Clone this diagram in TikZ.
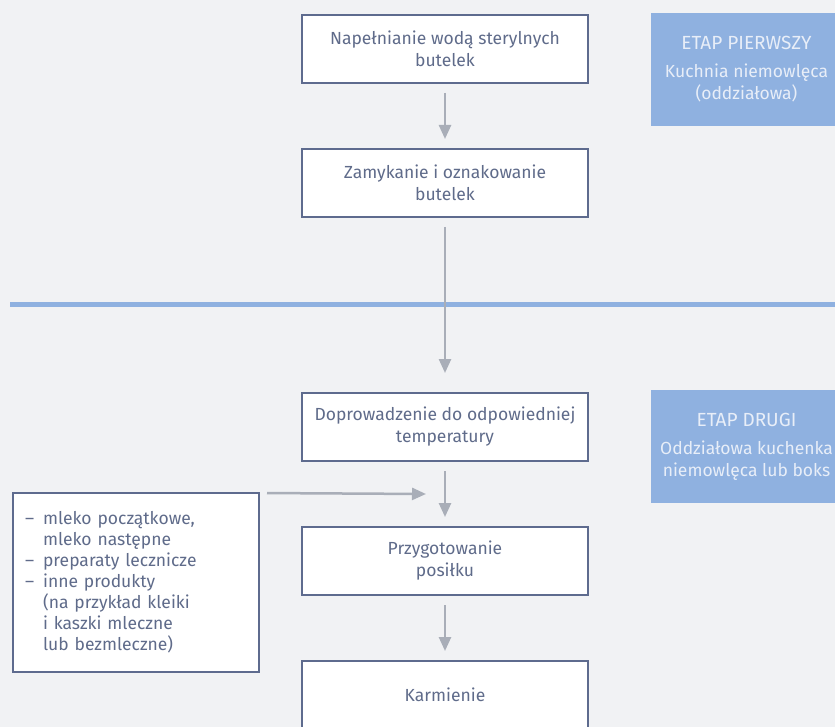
\documentclass[tikz,border=0pt]{standalone}
\usepackage{fontspec}
\setmainfont{Fira Sans}
\usetikzlibrary{arrows.meta,positioning}
\definecolor{bgGray}{HTML}{F1F2F4}
\definecolor{boxEdge}{HTML}{5E6B8E}
\definecolor{textBlue}{HTML}{5F6B8A}
\definecolor{arrowGray}{HTML}{A9AEB8}
\definecolor{stageBlue}{HTML}{8FB1E0}
\definecolor{stageText}{HTML}{E8EEF8}
\newcommand{\itemdash}{–\hspace{9pt}}
\newcommand{\itemgap}{\hphantom{–}\hspace{9pt}}

\begin{document}
\begin{tikzpicture}[
    x=1pt, y=-1pt,
    stepbox/.style={draw=boxEdge, line width=2pt, fill=white, minimum width=286pt, minimum height=68pt,
        inner sep=0pt, outer sep=0pt, align=center, text=textBlue, font=\fontsize{17.5}{22}\selectfont},
    stagebox/.style={fill=stageBlue, minimum width=191pt, minimum height=113pt, inner sep=0pt,
        align=center, text=stageText, font=\fontsize{17.5}{22}\selectfont},
    flow/.style={draw=arrowGray, line width=2.5pt, -{Triangle[length=14pt,width=12pt]},
        shorten <=10pt, shorten >=10pt}
]
    \useasboundingbox (0,0) rectangle (835,727);
    \fill[bgGray] (0,0) rectangle (835,727);

    % divider between the two stages
    \draw[stageBlue, line width=5pt] (10,304) -- (835,304);

    % main flow
    \node[stepbox] (fill) at (445,49) {Napełnianie wodą sterylnych\\butelek};
    \node[stepbox, below=66pt of fill] (close) {Zamykanie i oznakowanie\\butelek};
    \node[stepbox, below=176pt of close] (warm) {Doprowadzenie do odpowiedniej\\temperatury};
    \node[stepbox, below=66pt of warm] (prep) {Przygotowanie\\posiłku};
    \node[stepbox, below=66pt of prep] (feed) {Karmienie};

    % stages
    \node[stagebox] (stage1) at (746.5,69.5)
        {{\fontsize{19}{22}\selectfont ETAP PIERWSZY}\\[6pt]Kuchnia niemowlęca\\(oddziałowa)};
    \node[stagebox] (stage2) at (746.5,446.5)
        {{\fontsize{19}{22}\selectfont ETAP DRUGI}\\[6pt]Oddziałowa kuchenka\\niemowlęca lub boks};

    % products
    \node[stepbox, anchor=north west, minimum width=246pt, minimum height=179pt, inner xsep=12pt,
        text width=222pt, align=left, font=\fontsize{17.5}{21}\selectfont] (memo) at (13,493)
        {\itemdash mleko początkowe,\\
         \itemgap mleko następne\\
         \itemdash preparaty lecznicze\\
         \itemdash inne produkty\\
         \itemgap (na przykład kleiki\\
         \itemgap i kaszki mleczne\\
         \itemgap lub bezmleczne)};
    \coordinate (mergePt) at (426,494);

    \draw[flow] (fill) -- (close);
    \draw[flow, shorten >=20pt] (close) -- (warm);
    \draw[flow] (warm) -- (prep);
    \draw[flow] (prep) -- (feed);
    \draw[flow, shorten >=0pt, shorten <=8pt] (memo.north east) -- (mergePt);
\end{tikzpicture}
\end{document}
